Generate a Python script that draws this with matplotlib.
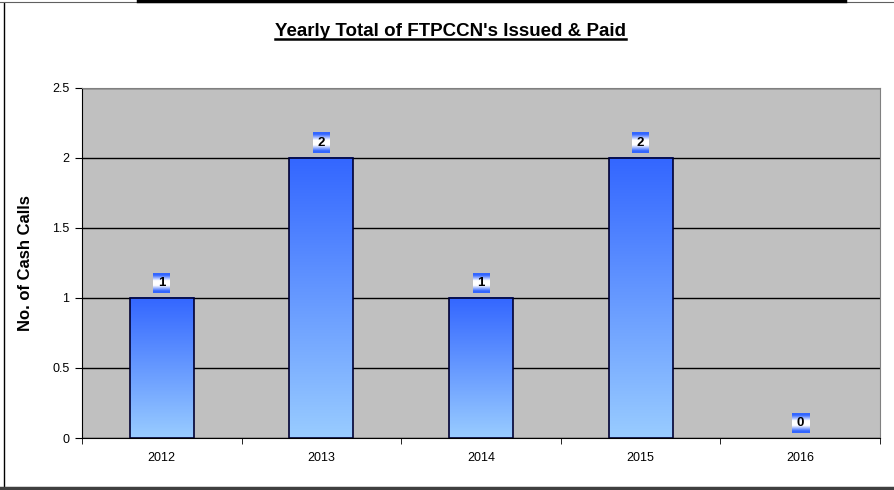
import matplotlib.pyplot as plt
import numpy as np
from matplotlib.colors import LinearSegmentedColormap
from matplotlib.lines import Line2D

# data
years = ['2012', '2013', '2014', '2015', '2016']
cash_calls = [1, 2, 1, 2, 0]
y_ticks = [0, 0.5, 1, 1.5, 2, 2.5]

plt.rcParams['font.family'] = ['Liberation Sans', 'DejaVu Sans']

fig = plt.figure(figsize=(8.95, 4.9), dpi=100)
ax = fig.add_axes([82 / 895, 52 / 490, 798 / 895, 350 / 490])
ax.set_facecolor('#C0C0C0')

x = np.arange(len(years))
bar_w = 0.4
ax.set_xlim(-0.5, len(years) - 0.5)
ax.set_ylim(0, 2.5)

# bar gradient (dark blue top -> light blue bottom)
bar_cmap = LinearSegmentedColormap.from_list('bar', ['#99CCFF', '#3366FF'])
grad = np.linspace(0, 1, 256).reshape(-1, 1)
for xi, v in zip(x, cash_calls):
    if v > 0:
        ax.imshow(grad, extent=[xi - bar_w / 2, xi + bar_w / 2, 0, v], origin='lower',
                  aspect='auto', cmap=bar_cmap, zorder=3)
edges = ['#000033' if v > 0 else 'none' for v in cash_calls]
ax.bar(x, cash_calls, width=bar_w, fill=False, edgecolor=edges, linewidth=1.2, zorder=4)
ax.set_xlim(-0.5, len(years) - 0.5)
ax.set_ylim(0, 2.5)

# data labels: small gradient boxes above each bar
px_x = (len(years)) / 798.0
px_y = 2.5 / 350.0
lab_cmap = LinearSegmentedColormap.from_list(
    'lab', [(0, '#3366FF'), (0.1, '#3366FF'), (0.38, '#FFFFFF'), (0.62, '#FFFFFF'),
            (0.9, '#3366FF'), (1, '#3366FF')])
for xi, v in zip(x, cash_calls):
    cy = v + 15 * px_y
    ax.imshow(grad, extent=[xi - 8.5 * px_x, xi + 8.5 * px_x, cy - 10 * px_y, cy + 10 * px_y],
              origin='lower', aspect='auto', cmap=lab_cmap, zorder=5)
    ax.text(xi, cy, str(v), ha='center', va='center', fontsize=9.5, fontweight='bold', zorder=6)
ax.set_xlim(-0.5, len(years) - 0.5)
ax.set_ylim(0, 2.5)

# grid & ticks
ax.set_yticks(y_ticks)
ax.set_yticklabels([f'{t:g}' for t in y_ticks], fontsize=9)
ax.yaxis.grid(True, color='black', linewidth=1)
ax.set_axisbelow(True)
ax.set_xticks(x)
ax.set_xticklabels(years, fontsize=9)
ax.set_xticks(np.arange(-0.5, len(years)), minor=True)
ax.tick_params(axis='x', which='major', length=0, pad=10)
ax.tick_params(axis='x', which='minor', length=4, direction='out')
ax.tick_params(axis='y', length=5, direction='out', pad=4)
for s in ['top', 'right']:
    ax.spines[s].set_color('#808080')
for s in ['left', 'bottom']:
    ax.spines[s].set_color('black')

ax.set_ylabel('No. of Cash Calls', fontsize=12, fontweight='bold', labelpad=14)

# title with underline
title = fig.text(451 / 895, 1 - 32 / 490, "Yearly Total of FTPCCN's Issued & Paid",
                 ha='center', va='center', fontsize=13.5, fontweight='bold')
fig.canvas.draw()
bb = title.get_window_extent().transformed(fig.transFigure.inverted())
fig.add_artist(Line2D([bb.x0, bb.x1], [bb.y0 + 0.003, bb.y0 + 0.003], color='black', linewidth=1.8))

# outer frame
fig.add_artist(Line2D([4 / 895, 4 / 895], [2 / 490, 1 - 3 / 490], color='black', linewidth=1))
fig.add_artist(Line2D([0, 1], [2 / 490, 2 / 490], color='#404040', linewidth=2.5))
fig.add_artist(Line2D([0, 1], [1 - 2.5 / 490, 1 - 2.5 / 490], color='#606060', linewidth=0.8))
fig.add_artist(Line2D([138 / 895, 845 / 895], [1 - 1.5 / 490, 1 - 1.5 / 490], color='black', linewidth=2.5))

fig.savefig('out.png', dpi=100)
